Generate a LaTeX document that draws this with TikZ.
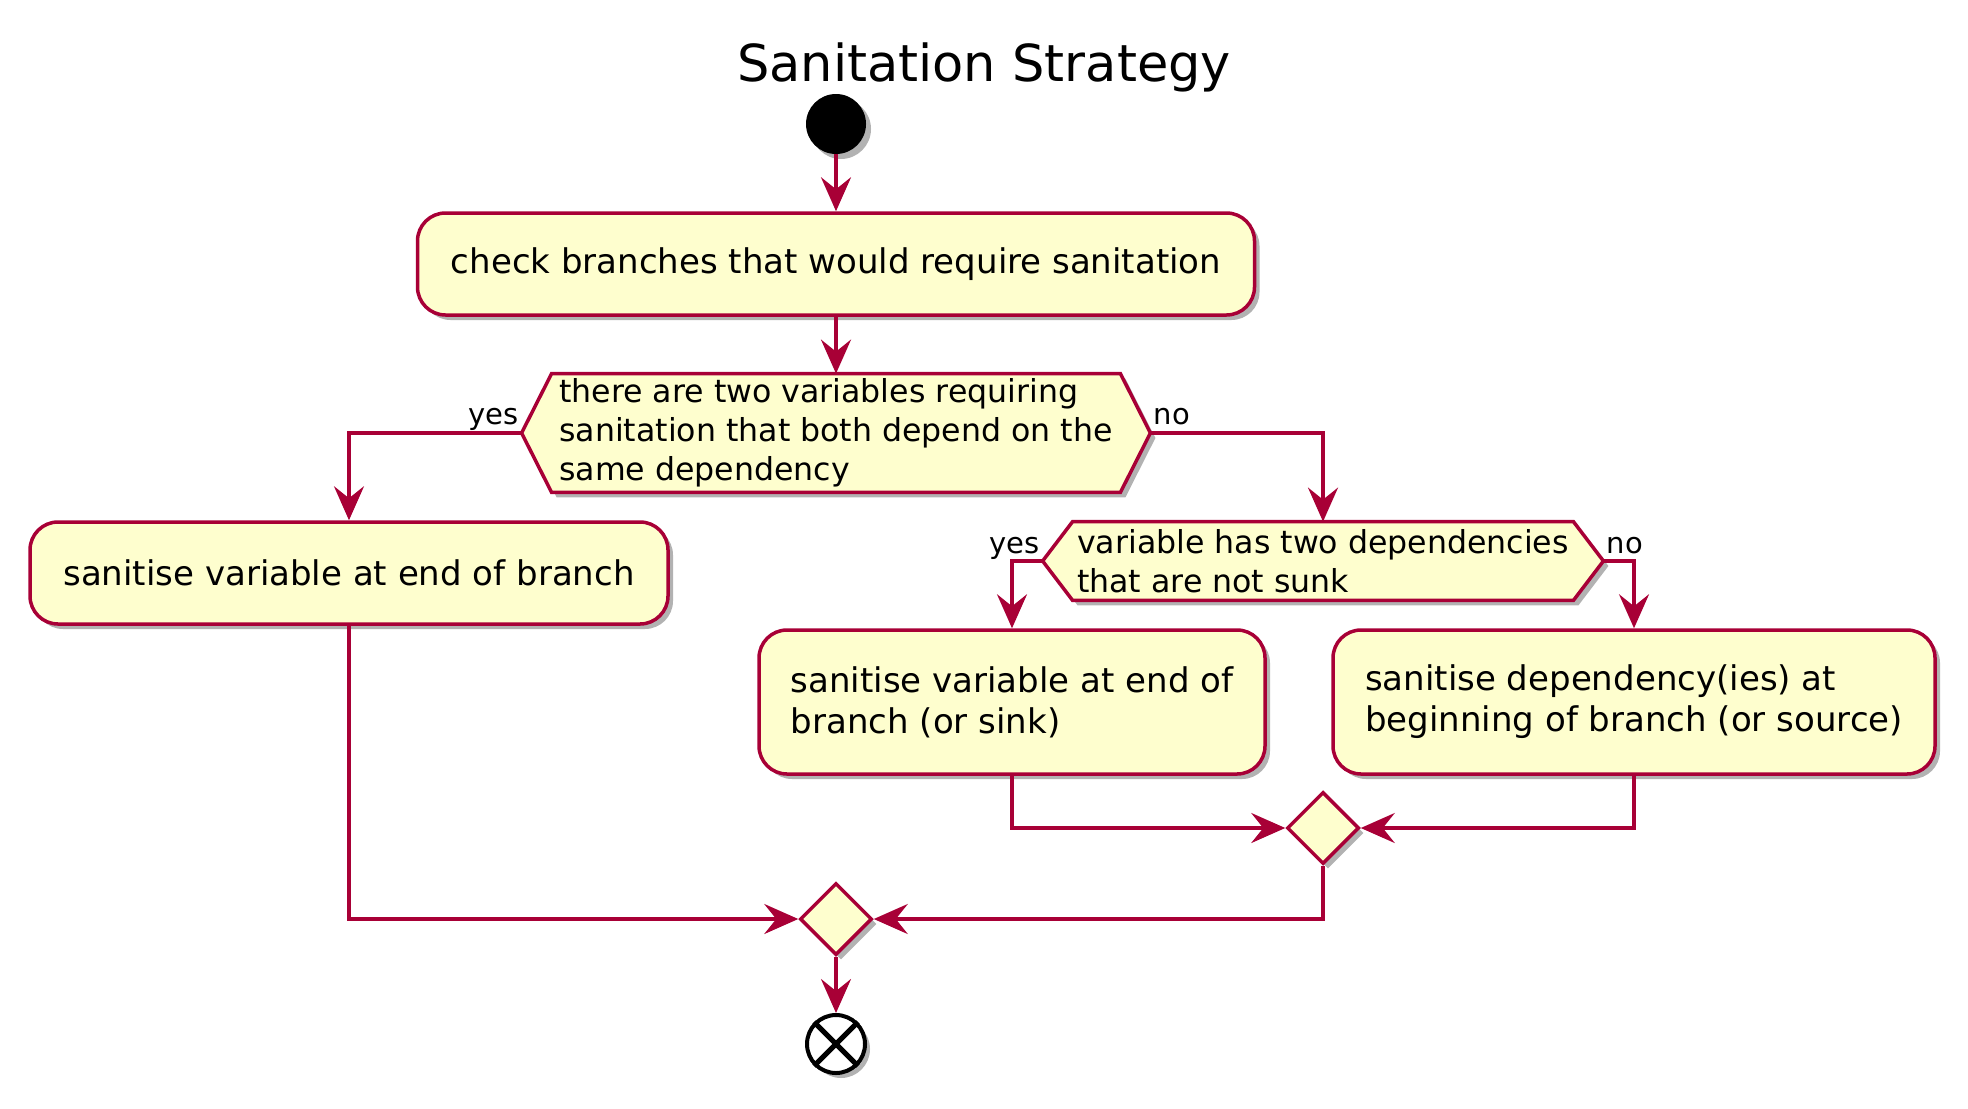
\documentclass[tikz,border=0pt]{standalone}
\usepackage{fontspec}
\setmainfont{DejaVu Sans}
\usetikzlibrary{arrows.meta,shadows,calc,backgrounds,shapes.geometric}
\definecolor{pborder}{HTML}{A80036}
\definecolor{pfill}{HTML}{FEFECE}
\tikzset{
  shd/.style={drop shadow={shadow xshift=2.5pt, shadow yshift=-2.5pt, opacity=0.3, fill=black}},
  act/.style={draw=pborder, fill=pfill, line width=1.75pt, rounded corners=14pt, shd,
    inner sep=0pt, align=left, font=\fontsize{17}{20.5}\selectfont},
  dec/.style={inner sep=0pt, align=left, font=\fontsize{15.8}{19.5}\selectfont},
  hexa/.style={draw=pborder, fill=pfill, line width=1.75pt, line join=miter, shd},
  merge/.style={diamond, draw=pborder, fill=pfill, line width=1.75pt, inner sep=0pt,
    minimum width=36pt, minimum height=36pt, shd},
  startn/.style={circle, fill=black, inner sep=0pt, minimum size=30pt, shd},
  endn/.style={circle, draw=black, fill=white, line width=2pt, inner sep=0pt, minimum size=29pt, shd},
  lbl/.style={inner sep=0pt, font=\fontsize{14.5}{17}\selectfont},
  conn/.style={draw=pborder, line width=1.75pt, -{Stealth[length=17pt, width=15pt, inset=6pt]}},
  ttl/.style={inner sep=0pt, font=\fontsize{25.5}{30}\selectfont}
}
\begin{document}
\begin{tikzpicture}[x=0.5pt,y=-0.5pt]
\useasboundingbox (0,0) rectangle (1968,1108);
\node[ttl] (title) at (984,67) {Sanitation Strategy};
\node[startn] (start) at (836,124) {};
\node[act, minimum width=418.5pt, minimum height=51pt] (b1) at (836,264) {check branches that would require sanitation};
\node[dec, minimum width=314pt, minimum height=59pt] (d1) at (836,433) {there are two variables requiring\\sanitation that both depend on the\\same dependency};
\node[act, minimum width=319pt, minimum height=51pt] (b2) at (349,573) {sanitise variable at end of branch};
\node[dec, minimum width=280pt, minimum height=39pt] (d2) at (1323,561) {variable has two dependencies\\that are not sunk};
\node[act, minimum width=253pt, minimum height=72pt] (b3) at (1012,702) {sanitise variable at end of\\branch (or sink)};
\node[act, minimum width=301pt, minimum height=72pt] (b4) at (1634,702) {sanitise dependency(ies) at\\beginning of branch (or source)};
\node[merge] (m1) at (1323,828) {};
\node[merge] (m2) at (836,919) {};
\node[endn] (end) at (836,1044) {};
\draw[line width=2.6pt] (end.45) -- (end.225) (end.135) -- (end.315);
\begin{pgfonlayer}{background}
\foreach \n in {d1,d2}
  \draw[hexa] (\n.west) -- ($(\n.north west)+(30,0)$) -- ($(\n.north east)+(-30,0)$) -- (\n.east)
     -- ($(\n.south east)+(-30,0)$) -- ($(\n.south west)+(30,0)$) -- cycle;
\end{pgfonlayer}
\node[lbl, anchor=base east] (y1) at ($(d1.west)+(-3,-9)$) {yes};
\node[lbl, anchor=base west] (n1) at ($(d1.east)+(3,-9)$) {no};
\node[lbl, anchor=base east] (y2) at ($(d2.west)+(-3,-8)$) {yes};
\node[lbl, anchor=base west] (n2) at ($(d2.east)+(3,-8)$) {no};
\draw[conn] (start) -- (b1);
\draw[conn] (b1) -- (d1);
\draw[conn] (d1.west) -| (b2.north);
\draw[conn] (d1.east) -| (d2.north);
\draw[conn] (d2.west) -| (b3.north);
\draw[conn] (d2.east) -| (b4.north);
\draw[conn] (b3.south) |- (m1.west);
\draw[conn] (b4.south) |- (m1.east);
\draw[conn] (b2.south) |- (m2.west);
\draw[conn] (m1.south) |- (m2.east);
\draw[conn] (m2) -- (end);
\end{tikzpicture}
\end{document}
